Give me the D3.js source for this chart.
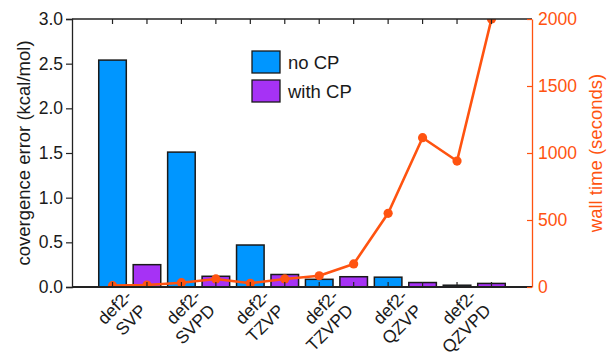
<!DOCTYPE html>
<html><head><meta charset="utf-8">
<script src="https://cdn.jsdelivr.net/npm/d3@7"></script>
<style>
html,body{margin:0;padding:0;background:#fff;}
text{font-family:"Liberation Sans",Arial,Helvetica,sans-serif;}
</style></head>
<body><svg id="c" width="607" height="358"></svg>
<script>
const categories = ["SVP","SVPD","TZVP","TZVPD","QZVP","QZVPD"];
const errorNoCP = [2.54, 1.51, 0.47, 0.086, 0.11, 0.02];
const errorCP   = [0.25, 0.12, 0.14, 0.115, 0.05, 0.04];
const timeNoCP  = [10, 32, 28, 84, 550, 940];
const timeCP    = [15, 60, 60, 172, 1114, 2000];
const leftTicks  = [0, 0.5, 1.0, 1.5, 2.0, 2.5, 3.0];
const rightTicks = [0, 500, 1000, 1500, 2000];
const seriesNames = ["no CP", "with CP"];

const blue = "#0096ff", purple = "#a632f5", orange = "#ff5310";
const L = 72, R = 532, T = 19, B = 287;
const svg = d3.select("#c");

const x = d3.scaleBand().domain(categories).range([L, R]).paddingInner(0).paddingOuter(0.338);
const step = x.step();
const y = d3.scaleLinear().domain([0, 3]).range([B, T]);
const y2 = d3.scaleLinear().domain([0, 2000]).range([B, T]);

const barW = step * 0.4;
const subX = (c, k) => x(c) + step * (k === 0 ? 0.25 : 0.75);

svg.append("defs").append("clipPath").attr("id", "pc")
  .append("rect").attr("x", L).attr("y", T).attr("width", R - L).attr("height", B - T);

// bars
const series = [errorNoCP, errorCP];
const colors = [blue, purple];
series.forEach((vals, k) => {
  svg.append("g").selectAll("rect").data(categories).join("rect")
    .attr("x", c => subX(c, k) - barW / 2)
    .attr("width", barW)
    .attr("y", (c, i) => y(vals[i]))
    .attr("height", (c, i) => B - y(vals[i]))
    .attr("fill", colors[k]).attr("stroke", "#1a1a1a").attr("stroke-width", 1.5);
});

// line points (alternating noCP / CP)
const pts = [];
categories.forEach((c, i) => {
  pts.push([subX(c, 0), y2(timeNoCP[i])]);
  pts.push([subX(c, 1), y2(timeCP[i])]);
});
const lg = svg.append("g").attr("clip-path", "url(#pc)");
lg.append("path").attr("d", d3.line()(pts)).attr("fill", "none")
  .attr("stroke", orange).attr("stroke-width", 2.6).attr("stroke-linejoin", "round");
lg.selectAll("circle").data(pts).join("circle")
  .attr("cx", d => d[0]).attr("cy", d => d[1]).attr("r", 4.6).attr("fill", orange);

// x ticks (inward, bottom and top) at each sub position
const tickXs = [];
categories.forEach(c => { tickXs.push(subX(c, 0)); tickXs.push(subX(c, 1)); });
const tg = svg.append("g").attr("stroke", "#222").attr("stroke-width", 1.2);
tickXs.forEach(tx => {
  tg.append("line").attr("x1", tx).attr("x2", tx).attr("y1", B).attr("y2", B - 5);
  tg.append("line").attr("x1", tx).attr("x2", tx).attr("y1", T).attr("y2", T + 5);
});

// frame: top and bottom lines
svg.append("line").attr("x1", L).attr("x2", R).attr("y1", T).attr("y2", T)
  .attr("stroke", "#222").attr("stroke-width", 1.3);
svg.append("line").attr("x1", L).attr("x2", R).attr("y1", B).attr("y2", B)
  .attr("stroke", "#222").attr("stroke-width", 2);

// left axis
const la = svg.append("g").attr("transform", `translate(${L},0)`)
  .call(d3.axisLeft(y).tickValues(leftTicks).tickFormat(d3.format(".1f")).tickSize(6).tickPadding(3));
la.select(".domain").attr("stroke", "#222").attr("stroke-width", 1.3);
la.selectAll(".tick line").attr("stroke", "#222").attr("stroke-width", 1.2);
la.selectAll(".tick text").attr("font-size", 17.5).attr("fill", "#1a1a1a")
  .attr("font-family", "Liberation Sans, Arial, sans-serif");

// right axis
const ra = svg.append("g").attr("transform", `translate(${R},0)`)
  .call(d3.axisRight(y2).tickValues(rightTicks).tickFormat(d3.format("d")).tickSizeInner(-5).tickSizeOuter(0).tickPadding(6));
ra.select(".domain").attr("stroke", orange).attr("stroke-width", 1.3);
ra.selectAll(".tick line").attr("stroke", orange).attr("stroke-width", 1.2);
ra.selectAll(".tick text").attr("font-size", 17.5).attr("fill", orange)
  .attr("font-family", "Liberation Sans, Arial, sans-serif");

// x category labels (rotated two-line)
categories.forEach(c => {
  const cx = x(c) + step / 2;
  const g = svg.append("g").attr("transform", `translate(${cx + 6},${300}) rotate(-45)`);
  const t = g.append("text").attr("text-anchor", "end").attr("font-size", 17.5).attr("fill", "#1a1a1a");
  t.append("tspan").attr("x", 0).attr("y", -4).text("def2-");
  t.append("tspan").attr("x", 0).attr("y", 16.5).text(c);
});

// axis titles
svg.append("text").attr("transform", `translate(29.5,${(T + B) / 2}) rotate(-90)`)
  .attr("text-anchor", "middle").attr("font-size", 18.5).attr("fill", "#1a1a1a")
  .text("covergence error (kcal/mol)");
svg.append("text").attr("transform", `translate(602,${(T + B) / 2}) rotate(-90)`)
  .attr("text-anchor", "middle").attr("font-size", 18.5).attr("fill", orange)
  .text("wall time (seconds)");

// legend
const leg = svg.append("g");
seriesNames.forEach((n, k) => {
  leg.append("rect").attr("x", 252).attr("y", 51 + k * 29).attr("width", 28).attr("height", 22)
    .attr("fill", colors[k]).attr("stroke", "#1a1a1a").attr("stroke-width", 1.3);
  leg.append("text").attr("x", 288).attr("y", 68.5 + k * 29).attr("font-size", 18.5)
    .attr("fill", "#1a1a1a").text(n);
});
</script></body></html>
